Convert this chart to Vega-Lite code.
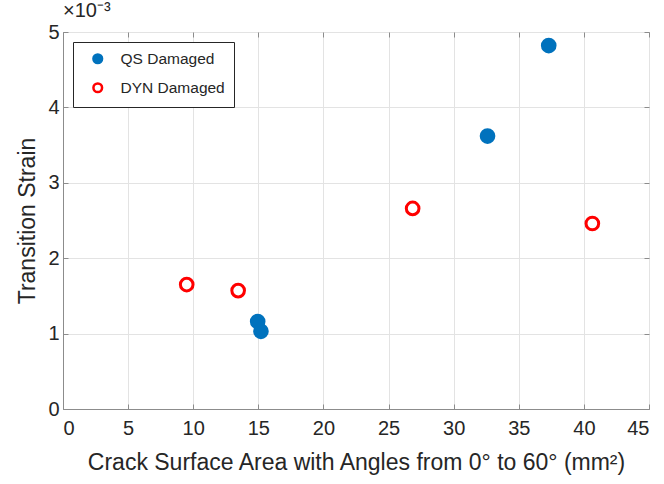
{
  "$schema": "https://vega.github.io/schema/vega-lite/v6.json",
  "width": 586,
  "height": 377,
  "autosize": {"type": "none"},
  "padding": {"left": 63, "top": 32, "right": 15, "bottom": 75},
  "background": "white",
  "title": {
    "text": "×10⁻³",
    "anchor": "start",
    "frame": "group",
    "offset": 1,
    "fontSize": 20,
    "fontWeight": "normal",
    "font": "Liberation Sans",
    "color": "#262626"
  },
  "data": {
    "values": [
      {"area": 37.3, "strain": 0.00482, "series": "QS Damaged"},
      {"area": 32.6, "strain": 0.00362, "series": "QS Damaged"},
      {"area": 14.95, "strain": 0.00116, "series": "QS Damaged"},
      {"area": 15.2, "strain": 0.00103, "series": "QS Damaged"},
      {"area": 9.5, "strain": 0.00165, "series": "DYN Damaged"},
      {"area": 13.45, "strain": 0.00157, "series": "DYN Damaged"},
      {"area": 26.85, "strain": 0.00266, "series": "DYN Damaged"},
      {"area": 40.65, "strain": 0.00246, "series": "DYN Damaged"}
    ]
  },
  "config": {
    "font": "Liberation Sans",
    "view": {"stroke": "#8c8c8c", "strokeWidth": 1},
    "axis": {
      "domainColor": "#8c8c8c",
      "tickColor": "#8c8c8c",
      "tickSize": -5,
      "gridColor": "#e3e3e3",
      "gridWidth": 1,
      "labelFontSize": 20,
      "labelColor": "#262626",
      "titleFontSize": 23,
      "titleFontWeight": "normal",
      "titleColor": "#262626",
      "labelFont": "Liberation Sans",
      "titleFont": "Liberation Sans"
    },
    "legend": {
      "orient": "top-left",
      "offset": 10,
      "strokeColor": "#262626",
      "strokeWidth": 1,
      "fillColor": "white",
      "padding": 9,
      "rowPadding": 9,
      "labelFontSize": 15.5,
      "labelColor": "#262626",
      "labelFont": "Liberation Sans",
      "labelOffset": 15,
      "symbolOffset": 8,
      "symbolSize": 75,
      "symbolStrokeWidth": 2.5,
      "title": null
    }
  },
  "layer": [
    {
      "mark": {"type": "point", "shape": "circle", "size": 160, "strokeWidth": 3, "opacity": 1},
      "encoding": {
        "x": {
          "field": "area",
          "type": "quantitative",
          "scale": {"domain": [0, 45], "nice": false, "zero": false},
          "axis": {
            "values": [0, 5, 10, 15, 20, 25, 30, 35, 40, 45],
            "title": "Crack Surface Area with Angles from 0° to 60° (mm²)",
            "labelPadding": 14,
            "titlePadding": 13
          }
        },
        "y": {
          "field": "strain",
          "type": "quantitative",
          "scale": {"domain": [0, 0.005], "nice": false},
          "axis": {
            "values": [0, 0.001, 0.002, 0.003, 0.004, 0.005],
            "labelExpr": "format(datum.value * 1000, 'd')",
            "title": "Transition Strain",
            "labelPadding": 9,
            "titlePadding": 8
          }
        },
        "stroke": {
          "field": "series",
          "type": "nominal",
          "scale": {"domain": ["QS Damaged", "DYN Damaged"], "range": ["#0072BD", "#FF0000"]},
          "legend": {"title": null}
        },
        "fill": {
          "field": "series",
          "type": "nominal",
          "scale": {"domain": ["QS Damaged", "DYN Damaged"], "range": ["#0072BD", "#FFFFFF"]},
          "legend": {"title": null}
        }
      }
    },
    {
      "mark": {"type": "point", "opacity": 0},
      "encoding": {
        "x": {
          "field": "area",
          "type": "quantitative",
          "scale": {"domain": [0, 45], "nice": false, "zero": false},
          "axis": {
            "orient": "top",
            "values": [0, 5, 10, 15, 20, 25, 30, 35, 40, 45],
            "labels": false,
            "grid": false,
            "domain": false,
            "title": null
          }
        },
        "y": {
          "field": "strain",
          "type": "quantitative",
          "scale": {"domain": [0, 0.005], "nice": false},
          "axis": {
            "orient": "right",
            "values": [0, 0.001, 0.002, 0.003, 0.004, 0.005],
            "labels": false,
            "grid": false,
            "domain": false,
            "title": null
          }
        }
      }
    }
  ],
  "resolve": {"axis": {"x": "independent", "y": "independent"}}
}
